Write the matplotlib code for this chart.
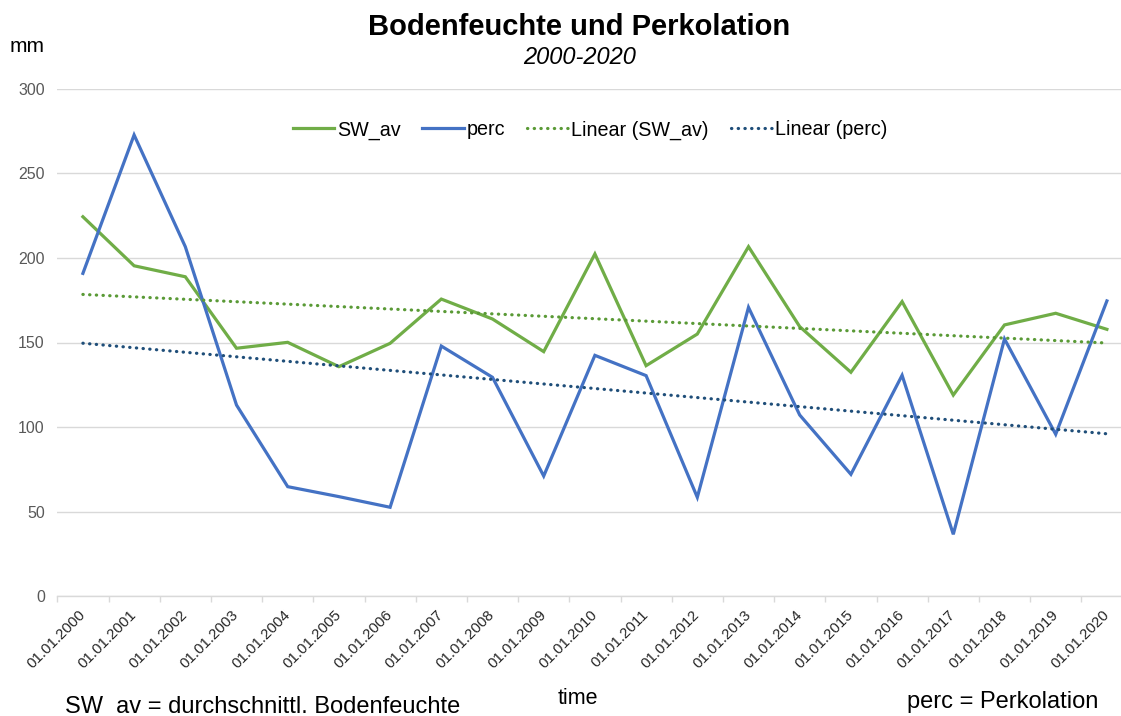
import numpy as np
import matplotlib
matplotlib.use("Agg")
import matplotlib.pyplot as plt

plt.rcParams["font.family"] = ["Liberation Sans", "DejaVu Sans"]

# Yearly values, 2000-2020
years = list(range(2000, 2021))
tick_labels = ["01.01.%d" % y for y in years]
sw_av = [224.4, 195.4, 188.9, 146.6, 150.1, 135.7, 149.5, 175.7, 163.9, 144.6,
         202.4, 136.3, 155.0, 206.7, 159.4, 132.4, 174.2, 118.9, 160.4, 167.3, 157.8]
perc = [190.9, 272.8, 206.7, 113.0, 64.7, 58.8, 52.5, 147.9, 129.4, 71.0,
        142.4, 130.4, 58.4, 170.8, 107.1, 72.0, 130.6, 36.5, 152.1, 95.7, 174.6]
y_ticks = [0, 50, 100, 150, 200, 250, 300]

green = "#70ad47"
blue = "#4472c4"
green_trend = "#5a9a36"
blue_trend = "#1f4e79"
grid_col = "#d9d9d9"

fig = plt.figure(figsize=(11.21, 7.16), dpi=100)
ax = fig.add_axes([57.3 / 1121, 1 - 596 / 716, (1132.5 - 57.3) / 1121, (596 - 89) / 716])

x = np.arange(len(years))
ax.plot(x, sw_av, color=green, lw=2.3, label="SW_av", solid_joinstyle="miter")
ax.plot(x, perc, color=blue, lw=2.3, label="perc", solid_joinstyle="miter")

# linear trend lines
for vals, col, name in [(sw_av, green_trend, "Linear (SW_av)"), (perc, blue_trend, "Linear (perc)")]:
    k, d = np.polyfit(x, vals, 1)
    ax.plot(x, k * x + d, color=col, lw=2.3, dashes=(0.1, 2.0),
            dash_capstyle="round", label=name)

ax.set_xlim(-0.5, len(years) - 0.5)
ax.set_ylim(0, 300)
ax.set_yticks(y_ticks)
ax.tick_params(axis="y", length=0, pad=9, labelsize=11.5, labelcolor="#595959")
ax.yaxis.grid(True, color=grid_col, lw=1)
ax.set_axisbelow(True)

ax.set_xticks(x)
ax.set_xticklabels(tick_labels, rotation=45, ha="right", va="center",
                   rotation_mode="anchor", fontsize=10.8, color="#262626")
ax.set_xticks(np.arange(-0.5, len(years)), minor=True)
ax.tick_params(axis="x", which="major", length=0, pad=12)
ax.tick_params(axis="x", which="minor", length=4, color=grid_col, width=1)

for s in ["top", "right", "left"]:
    ax.spines[s].set_visible(False)
ax.spines["bottom"].set_color(grid_col)
ax.spines["bottom"].set_linewidth(1)

fig.legend(loc="center", bbox_to_anchor=(590 / 1121, 1 - 130 / 716), ncol=4,
           frameon=False, fontsize=14.2, handlelength=2.1, handletextpad=0.15,
           columnspacing=1.1)

fig.text(579 / 1121, 1 - 27 / 716, "Bodenfeuchte und Perkolation", ha="center",
         va="center", fontsize=21, fontweight="bold")
fig.text(580 / 1121, 1 - 58 / 716, "2000-2020", ha="center", va="center",
         fontsize=17, style="italic")
fig.text(10 / 1121, 1 - 47 / 716, "mm", ha="left", va="center", fontsize=15)
fig.text(578 / 1121, 1 - 698 / 716, "time", ha="center", va="center", fontsize=15.5)
fig.text(65 / 1121, 1 - 713.5 / 716, "SW_av = durchschnittl. Bodenfeuchte",
         ha="left", va="baseline", fontsize=17)
fig.text(1098 / 1121, 1 - 708 / 716, "perc = Perkolation", ha="right",
         va="baseline", fontsize=17)

fig.savefig("out.png", dpi=100)
